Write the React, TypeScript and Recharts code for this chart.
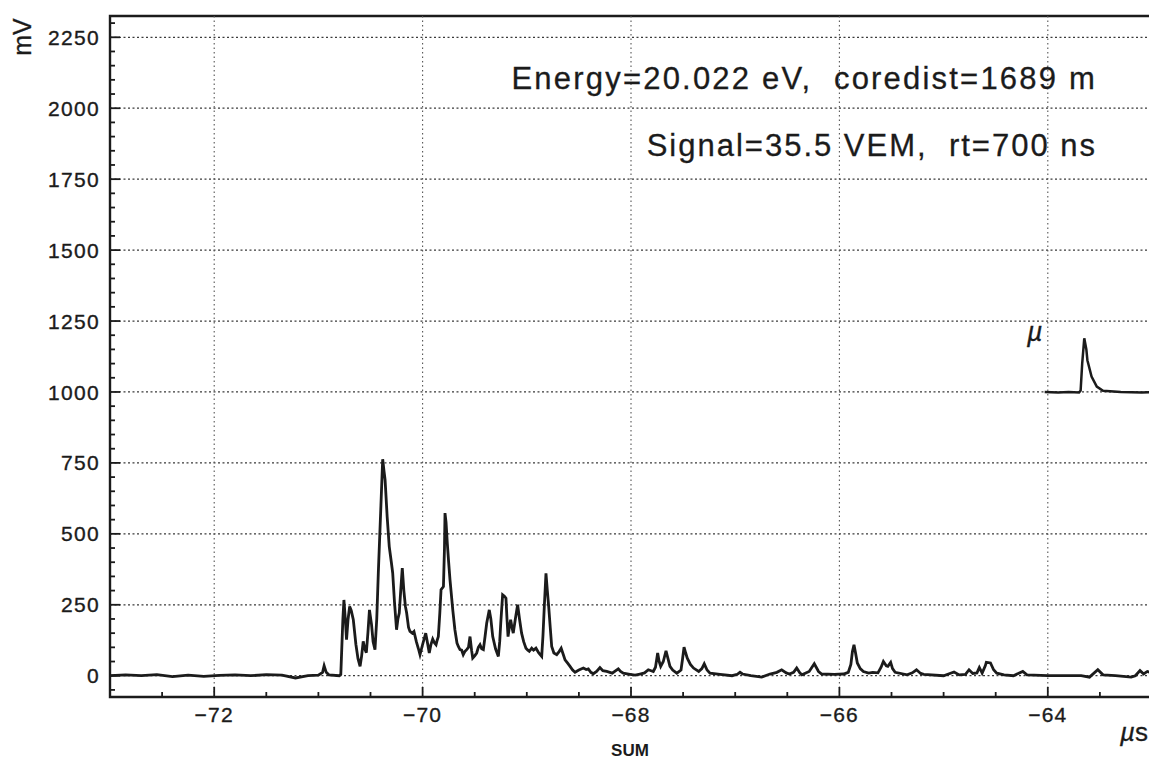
import React from 'react';
import { LineChart, Line, XAxis, YAxis, ReferenceLine, ReferenceArea } from 'recharts';

// ---- data (time in µs, signal in mV) ----
const traceTime = [
  -73.0, -72.85, -72.7, -72.55, -72.4, -72.25, -72.1, -71.95, -71.8, -71.65,
  -71.5, -71.35, -71.22, -71.1, -71.0, -70.96, -70.945, -70.925, -70.9, -70.8,
  -70.785, -70.765, -70.755, -70.74, -70.73, -70.715, -70.7, -70.685, -70.665, -70.64,
  -70.62, -70.6, -70.585, -70.57, -70.555, -70.54, -70.525, -70.51, -70.49, -70.475,
  -70.457, -70.44, -70.425, -70.4, -70.383, -70.37, -70.36, -70.34, -70.32, -70.3,
  -70.287, -70.27, -70.25, -70.237, -70.224, -70.21, -70.195, -70.18, -70.165, -70.153,
  -70.135, -70.121, -70.1, -70.083, -70.06, -70.04, -70.025, -70.0, -69.97, -69.955,
  -69.936, -69.92, -69.903, -69.885, -69.871, -69.86, -69.849, -69.835, -69.823, -69.8,
  -69.79, -69.785, -69.775, -69.763, -69.75, -69.737, -69.71, -69.69, -69.67, -69.657,
  -69.641, -69.625, -69.61, -69.595, -69.577, -69.56, -69.545, -69.53, -69.519, -69.5,
  -69.481, -69.465, -69.449, -69.433, -69.417, -69.4, -69.385, -69.36, -69.345, -69.327,
  -69.3, -69.273, -69.26, -69.25, -69.232, -69.215, -69.2, -69.19, -69.18, -69.168,
  -69.155, -69.142, -69.13, -69.11, -69.088, -69.07, -69.05, -69.03, -69.008, -68.99,
  -68.976, -68.953, -68.935, -68.912, -68.885, -68.857, -68.845, -68.832, -68.816, -68.803,
  -68.79, -68.775, -68.761, -68.74, -68.713, -68.69, -68.67, -68.65, -68.633, -68.61,
  -68.585, -68.56, -68.537, -68.5, -68.457, -68.43, -68.41, -68.385, -68.362, -68.33,
  -68.298, -68.27, -68.233, -68.18, -68.122, -68.1, -68.074, -68.01, -67.96, -67.914,
  -67.87, -67.834, -67.786, -67.765, -67.744, -67.73, -67.715, -67.69, -67.664, -67.645,
  -67.626, -67.6, -67.56, -67.52, -67.505, -67.491, -67.475, -67.46, -67.43, -67.4,
  -67.35, -67.32, -67.297, -67.27, -67.242, -67.146, -67.03, -66.98, -66.954, -66.93,
  -66.85, -66.746, -66.666, -66.6, -66.554, -66.51, -66.48, -66.44, -66.41, -66.38,
  -66.36, -66.29, -66.241, -66.2, -66.17, -66.05, -65.96, -65.915, -65.89, -65.875,
  -65.86, -65.845, -65.828, -65.8, -65.77, -65.72, -65.68, -65.63, -65.6, -65.578,
  -65.55, -65.535, -65.508, -65.49, -65.465, -65.35, -65.3, -65.26, -65.22, -65.19,
  -65.0, -64.9, -64.85, -64.79, -64.756, -64.72, -64.68, -64.657, -64.63, -64.6,
  -64.59, -64.55, -64.52, -64.49, -64.42, -64.33, -64.24, -64.2, -64.0, -63.78,
  -63.68, -63.6, -63.52, -63.47, -63.35, -63.2, -63.16, -63.115, -63.08, -63.045,
  -63.0,
];
const traceMv = [
  0, 3, 0, 4, -3, 2, -2, 1, 3, 0,
  4, 2, -8, 0, 2, 12, 35, 12, 3, 0,
  5, 200, 267, 190, 127, 200, 244, 230, 197, 110,
  60, 33, 70, 121, 95, 81, 150, 232, 180, 120,
  92, 200, 362, 600, 763, 720, 690, 560, 455, 400,
  362, 260, 162, 200, 221, 300, 379, 300, 245, 221,
  170, 156, 150, 156, 120, 95, 74, 110, 150, 120,
  80, 110, 129, 115, 109, 125, 138, 220, 303, 314,
  450, 573, 540, 467, 400, 338, 230, 162, 115, 103,
  92, 90, 74, 85, 92, 100, 138, 90, 62, 70,
  80, 100, 109, 95, 92, 140, 185, 232, 200, 138,
  95, 68, 120, 185, 285, 280, 273, 200, 138, 170,
  197, 170, 150, 200, 250, 200, 150, 120, 97, 90,
  86, 97, 90, 97, 80, 68, 140, 244, 361, 300,
  244, 170, 103, 80, 74, 85, 97, 75, 56, 45,
  33, 20, 12, 20, 27, 22, 24, 12, 7, 15,
  29, 18, 15, 9, 24, 15, 9, 5, 2, 6,
  10, 21, 15, 30, 80, 50, 33, 50, 88, 60,
  33, 20, 9, 20, 60, 101, 80, 62, 40, 27,
  15, 25, 42, 20, 9, 5, 0, 5, 12, 6,
  0, -5, 6, 12, 21, 10, 6, 12, 27, 10,
  3, 15, 42, 15, 6, 5, 6, 12, 40, 85,
  109, 80, 45, 25, 15, 9, 12, 10, 30, 50,
  35, 33, 47, 25, 12, 3, 10, 21, 8, 5,
  0, 13, 3, 5, 21, 8, 10, 29, 9, 35,
  47, 45, 21, 9, 3, 0, 15, 3, 0, 0,
  0, -5, 21, 3, 0, -5, 0, 18, 6, 15,
  9,
];

// single-muon reference pulse drawn at the 1000 mV level
const pulseTime = [-64.03, -63.9, -63.8, -63.7, -63.685, -63.67, -63.65, -63.63, -63.62, -63.58, -63.53, -63.47, -63.3, -63.1, -63.0];
const pulseMv = [1000, 998, 1000, 998, 1005, 1100, 1189, 1150, 1112, 1054, 1019, 1004, 1000, 998, 1000];

// ---- axes ----
const xDomain = [-73, -63];
const yDomain = [-75, 2325];
const xMajorTicks = [-72, -70, -68, -66, -64];
const xTicks = [-72.5, -72, -71.5, -71, -70.5, -70, -69.5, -69, -68.5, -68, -67.5, -67, -66.5, -66, -65.5, -65, -64.5, -64, -63.5];
const yMajorTicks = [0, 250, 500, 750, 1000, 1250, 1500, 1750, 2000, 2250];
const yTicks = Array.from({ length: 48 }, (_, i) => -50 + i * 50);

const traceData = traceTime.map((t, i) => ({ t, v: traceMv[i] }));
const pulseData = pulseTime.map((t, i) => ({ t, v: pulseMv[i] }));

const INK = '#1b1b1b';
const FONT = '"Liberation Sans", Arial, Helvetica, sans-serif';

const XTick = (props: any) => {
  const { x, y, payload } = props;
  const v = payload.value as number;
  const major = xMajorTicks.includes(v);
  return (
    <g>
      <line x1={x} x2={x} y1={y} y2={y - (major ? 10 : 5)} stroke={INK} strokeWidth={1.8} />
      {major && (
        <text x={x} y={y + 25} textAnchor="middle" fontSize={21} fontFamily={FONT} fill={INK} stroke={INK} strokeWidth={0.35} letterSpacing={1.2}>
          {'\u2212' + Math.abs(v)}
        </text>
      )}
    </g>
  );
};

const YTick = (props: any) => {
  const { x, y, payload } = props;
  const v = payload.value as number;
  const major = yMajorTicks.includes(v);
  return (
    <g>
      <line x1={x} x2={x + (major ? 10 : 5)} y1={y} y2={y} stroke={INK} strokeWidth={1.8} />
      {major && (
        <text x={x - 10} y={y} dy="0.36em" textAnchor="end" fontSize={21} fontFamily={FONT} fill={INK} stroke={INK} strokeWidth={0.35} letterSpacing={1.3}>
          {v}
        </text>
      )}
    </g>
  );
};

const W = 1149;
const H = 748;

export default function App() {
  return (
    <div style={{ position: 'relative', width: W, height: H, background: '#fff' }}>
      <LineChart width={W} height={H} margin={{ top: 8, right: 5, bottom: 29, left: 0 }}>
        <XAxis
          type="number"
          dataKey="t"
          domain={xDomain}
          allowDataOverflow
          ticks={xTicks}
          interval={0}
          tick={XTick}
          tickLine={false}
          axisLine={false}
          tickSize={0}
          tickMargin={0}
          height={30}
        />
        <YAxis
          type="number"
          domain={yDomain}
          allowDataOverflow
          ticks={yTicks}
          interval={0}
          tick={YTick}
          tickLine={false}
          axisLine={false}
          tickSize={0}
          tickMargin={0}
          width={102}
        />
        {yMajorTicks.map((v) => (
          <ReferenceLine key={'h' + v} y={v} stroke="#3a3a3a" strokeWidth={1.3} strokeDasharray="2 2.5" />
        ))}
        {xMajorTicks.map((v) => (
          <ReferenceLine key={'v' + v} x={v} stroke="#555" strokeWidth={1.1} strokeDasharray="1.5 3" />
        ))}
        <ReferenceArea x1={xDomain[0]} x2={xDomain[1]} y1={yDomain[0]} y2={yDomain[1]} fill="none" fillOpacity={0} stroke={INK} strokeWidth={2.4} />
        <Line data={traceData} dataKey="v" type="linear" stroke={INK} strokeWidth={2.8} dot={false} isAnimationActive={false} />
        <Line data={pulseData} dataKey="v" type="linear" stroke={INK} strokeWidth={2.5} dot={false} isAnimationActive={false} />
      </LineChart>
      <svg
        width={W}
        height={H}
        style={{ position: 'absolute', left: 0, top: 0, pointerEvents: 'none', overflow: 'visible' }}
      >
        <text x={1089} y={81} textAnchor="end" fontSize={31} fontFamily={FONT} fill={INK} stroke={INK} strokeWidth={0.3} letterSpacing={2.2} style={{ whiteSpace: 'pre' }}>
          {'Energy=20.022 eV,  coredist=1689 m'}
        </text>
        <text x={1089} y={148} textAnchor="end" fontSize={31} fontFamily={FONT} fill={INK} stroke={INK} strokeWidth={0.3} letterSpacing={2.0} style={{ whiteSpace: 'pre' }}>
          {'Signal=35.5 VEM,  rt=700 ns'}
        </text>
        <text x={14} y={29} transform="rotate(-90 14 29)" textAnchor="middle" dominantBaseline="central" fontSize={25} fontFamily={FONT} fill={INK} stroke={INK} strokeWidth={0.3}>
          mV
        </text>
        <text x={622} y={748} textAnchor="middle" fontSize={17} fontWeight={600} fontFamily={FONT} fill={INK}>
          SUM
        </text>
        <text x={1112} y={733} fontSize={26} fontFamily={FONT} fill={INK} stroke={INK} strokeWidth={0.3}>
          <tspan fontStyle="italic">µ</tspan>s
        </text>
        <text x={1019} y={333} fontSize={27} fontStyle="italic" fontFamily={FONT} fill={INK} stroke={INK} strokeWidth={0.3}>
          µ
        </text>
      </svg>
    </div>
  );
}
